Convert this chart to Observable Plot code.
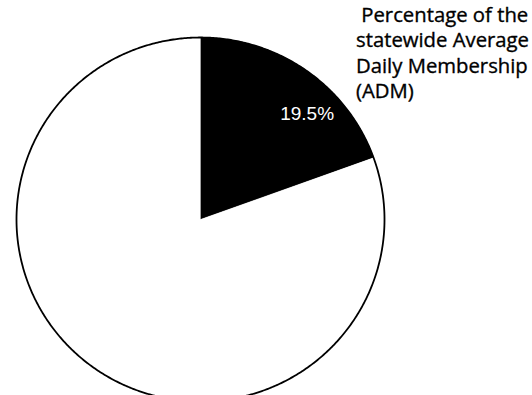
<!DOCTYPE html>
<html>
<head>
<meta charset="utf-8">
<script src="https://cdn.jsdelivr.net/npm/d3@7"></script>
<script src="https://cdn.jsdelivr.net/npm/@observablehq/plot@0.6"></script>
<style>
  html, body { margin: 0; padding: 0; background: #fff; }
  #wrap { position: relative; width: 532px; height: 395px; overflow: hidden; }
  #title { position: absolute; left: 356px; top: 2px; font-family: "Open Sans", sans-serif;
           font-size: 20.3px; line-height: 25.3px; color: #000; white-space: pre;
           -webkit-text-stroke: 0.35px #000; }
</style>
</head>
<body>
<div id="wrap">
  <div id="chart"></div>
  <div id="title"></div>
</div>
<script>
const categories = ["Share of statewide ADM", "Rest of state"];
const shares = [19.5, 80.5];
const sliceLabels = ["19.5%", ""];
const fills = ["#000", "#fff"];
const titleLines = [" Percentage of the", "statewide Average", "Daily Membership", "(ADM)"];

document.getElementById("title").textContent = titleLines.join("\n");

const pie = d3.pie().sort(null).startAngle(0).endAngle(2 * Math.PI)(shares);
const arcs = pie.map((p, i) => {
  const pts = [{cat: categories[i], x: 0, y: 0}];
  const n = Math.max(2, Math.ceil((p.endAngle - p.startAngle) / (Math.PI / 360)));
  for (let k = 0; k <= n; k++) {
    const a = p.startAngle + (p.endAngle - p.startAngle) * k / n;
    pts.push({cat: categories[i], x: Math.sin(a), y: Math.cos(a)});
  }
  return pts;
});
const outline = d3.range(0, 721).map(k => {
  const a = k / 720 * 2 * Math.PI;
  return {x: Math.sin(a), y: Math.cos(a)};
});
const labelRows = pie.map((p, i) => {
  const a = (p.startAngle + p.endAngle) / 2;
  return {label: sliceLabels[i], x: 0.8 * Math.sin(a), y: 0.8 * Math.cos(a)};
}).filter(d => d.label);

const marks = [];
arcs.forEach((pts, i) => {
  marks.push(Plot.line(pts, {x: "x", y: "y", fill: fills[i], stroke: fills[i], strokeWidth: 0.5}));
});
marks.push(Plot.line(outline, {x: "x", y: "y", stroke: "#000", strokeWidth: 1.8}));
marks.push(Plot.text(labelRows, {x: "x", y: "y", text: "label", fill: "#fff", fontSize: 19,
  fontFamily: "Liberation Sans, Arial, sans-serif", dx: 22, dy: 14}));

const chart = Plot.plot({
  width: 532,
  height: 395,
  margin: 0,
  x: {domain: [-1, 1], range: [16, 384], axis: null},
  y: {domain: [-1, 1], range: [401, 37], axis: null},
  style: {background: "transparent", overflow: "visible"},
  marks
});
document.getElementById("chart").appendChild(chart);
</script>
</body>
</html>
